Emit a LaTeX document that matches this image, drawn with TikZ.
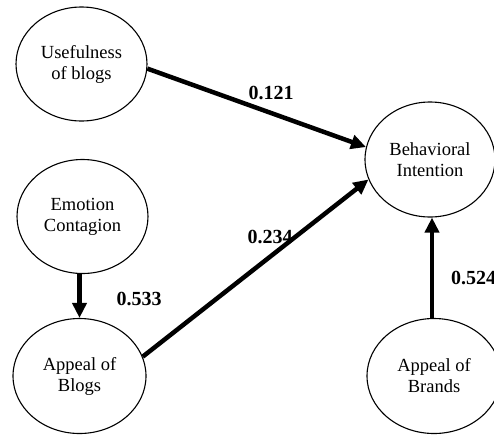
\documentclass[tikz,border=0pt]{standalone}
\usepackage{fontspec}
\setmainfont{Liberation Serif}
\usetikzlibrary{arrows.meta,shapes.geometric}
\begin{document}
\begin{tikzpicture}[x=1pt,y=1pt,
  construct/.style={draw, line width=1.1pt, ellipse, inner sep=0pt,
    minimum width=131pt, minimum height=114pt, align=center,
    font=\fontsize{18.5}{21}\selectfont},
  path/.style={line width=4.5pt, -{Triangle[length=15pt,width=14pt]}},
  coef/.style={font=\fontsize{20}{24}\selectfont\bfseries, inner sep=0pt}
]
\clip (0,0) rectangle (494,-434);
\fill[white] (0,0) rectangle (494,-434);
\node[construct] (ub) at (81.5,-64) {Usefulness\\of blogs};
\node[construct] (ec) at (82.5,-216.5) {Emotion\\Contagion};
\node[construct, minimum width=133pt, minimum height=115pt] (ab) at (79.5,-376) {Appeal of\\Blogs};
\node[construct, minimum width=130pt, minimum height=115pt] (bi) at (430,-159.5) {Behavioral\\Intention};
\node[construct, minimum width=134pt, minimum height=115pt] (br) at (434,-376) {Appeal of\\Brands};

\draw[path] (ub.-4) -- (bi.169);
\draw[path] (ab.17) -- (bi.198);
\draw[path] (ec.south -| ab) -- (ab.north);
\draw[path] ([xshift=-2pt]br.north) -- ([xshift=2pt]bi.south);

\node[coef] (c1) at (271,-93) {0.121};
\node[coef] (c2) at (270,-237) {0.234};
\node[coef] (c3) at (139,-299) {0.533};
\node[coef, anchor=west] (c4) at (451,-278) {0.524};
\end{tikzpicture}
\end{document}
